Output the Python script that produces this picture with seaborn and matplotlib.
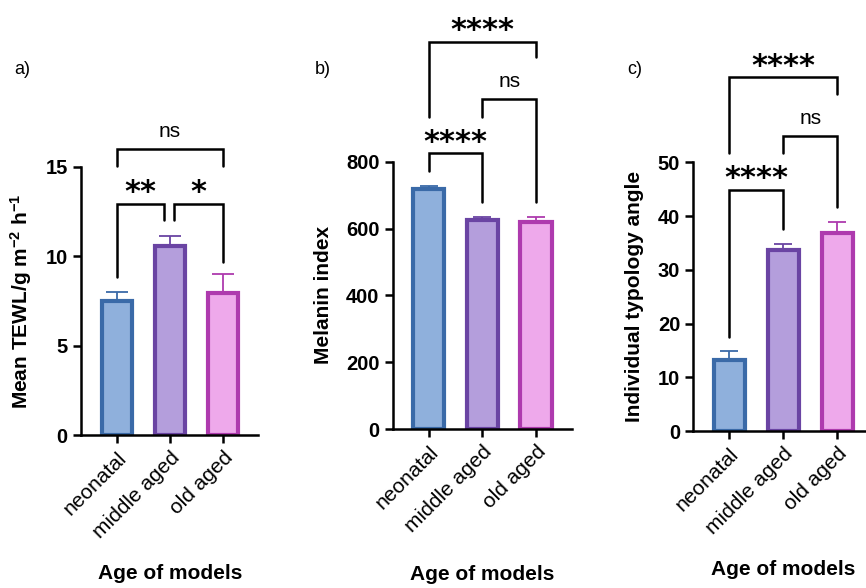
import numpy as np
import seaborn as sns
import matplotlib.pyplot as plt

# data
categories = ['neonatal', 'middle aged', 'old aged']
tewl_mean = [7.5, 10.58, 7.95]
tewl_err = [0.52, 0.57, 1.04]
melanin_mean = [717, 625, 621]
melanin_err = [11, 10, 14]
angle_mean = [13.2, 33.6, 36.9]
angle_err = [1.6, 1.2, 2.05]

fills = ['#8FB0DC', '#B49EDC', '#EEA9EB']
edges = ['#3A6AA8', '#6A44A3', '#AE3AAE']

sns.set_style('ticks')
plt.rcParams['font.family'] = ['Liberation Sans', 'DejaVu Sans']
plt.rcParams['text.color'] = 'black'
plt.rcParams['axes.labelcolor'] = 'black'
plt.rcParams['xtick.color'] = 'black'
plt.rcParams['ytick.color'] = 'black'
plt.rcParams['mathtext.fontset'] = 'custom'
plt.rcParams['mathtext.rm'] = 'Liberation Sans:bold'
plt.rcParams['mathtext.bf'] = 'Liberation Sans:bold'
plt.rcParams['mathtext.default'] = 'bf'

fig = plt.figure(figsize=(8.66, 5.88), dpi=100)

# axes rectangles, figure fractions
rects = [
    [0.0935, 0.2602, 0.2044, 0.4558],
    [0.4535, 0.2704, 0.2067, 0.4546],
    [0.8006, 0.2670, 0.2080, 0.4570],
]
xlims = [(-0.68, 2.66), (-0.673, 2.666), (-0.667, 2.67)]
means = [tewl_mean, melanin_mean, angle_mean]
errs = [tewl_err, melanin_err, angle_err]
ylims = [15, 800, 50]
ysteps = [5, 200, 10]
ylabels = [r'Mean TEWL/g m$^{-2}$ h$^{-1}$', 'Melanin index', 'Individual typology angle']
ylabel_x = [-0.339, -0.389, -0.324]
xlabel_xy = [(0.503, -0.515), (0.499, -0.546), (0.498, -0.517)]
capsizes = [8, 6.5, 6.5]

# brackets: (x_left, x_right, y_bar, left_leg_end, right_leg_end, label)
brackets = [
    [(0, 0.89, 12.93, 8.86, 12.03, '**'),
     (1.08, 2, 12.93, 12.03, 9.7, '*'),
     (0, 2, 15.99, 15.07, 15.07, 'ns')],
    [(0, 1, 825, 773, 680, '****'),
     (1, 2, 987, 935, 680, 'ns'),
     (0, 2, 1159, 935, 1112, '****')],
    [(0, 1, 44.85, 17.4, 37.5, '****'),
     (1, 2, 54.9, 51.7, 41.6, 'ns'),
     (0, 2, 65.8, 51.7, 62.7, '****')],
]

for k in range(3):
    ax = fig.add_axes(rects[k])
    sns.barplot(x=categories, y=means[k], hue=categories, palette=fills,
                saturation=1, width=0.58, linewidth=3, legend=False, ax=ax)
    for patch, ec in zip(ax.patches, edges):
        patch.set_edgecolor(ec)
    for i in range(3):
        ax.errorbar(i, means[k][i], yerr=[[0], [errs[k][i]]], fmt='none',
                    ecolor=edges[i], elinewidth=1.3, capsize=capsizes[k],
                    capthick=1.3, zorder=1)

    ax.set_xlim(*xlims[k])
    ax.set_ylim(0, ylims[k])
    ax.set_yticks(np.arange(0, ylims[k] + 1, ysteps[k]))
    sns.despine(ax=ax)
    for sp in ['left', 'bottom']:
        ax.spines[sp].set_linewidth(1.8)
        ax.spines[sp].set_color('black')
    ax.tick_params(axis='both', length=6, width=1.8, color='black')
    ax.tick_params(axis='y', labelsize=14.5)
    for lab in ax.get_yticklabels():
        lab.set_fontweight('bold')
    ax.set_xticks(range(3))
    ax.set_xticklabels(categories, rotation=45, ha='right',
                       rotation_mode='anchor', fontsize=15)
    ax.set_ylabel(ylabels[k], fontsize=15, fontweight='bold')
    ax.yaxis.set_label_coords(ylabel_x[k], 0.5)
    ax.yaxis.label.set_va('center')
    ax.set_xlabel('Age of models', fontsize=15, fontweight='bold')
    ax.xaxis.set_label_coords(*xlabel_xy[k])
    ax.xaxis.label.set_va('center')

    for (x0, x1, yb, yl, yr, lab) in brackets[k]:
        ax.plot([x0, x0, x1, x1], [yl, yb, yb, yr], color='black', lw=1.8,
                clip_on=False, solid_joinstyle='miter')
        if lab == 'ns':
            ax.annotate(lab, ((x0 + x1) / 2, yb), xytext=(0, 6),
                        textcoords='offset points', ha='center', va='bottom',
                        fontsize=15, annotation_clip=False)
        else:
            ax.annotate(lab, ((x0 + x1) / 2, yb), xytext=(0, 2),
                        textcoords='offset points', ha='center', va='baseline',
                        fontsize=22, fontweight='bold', family='DejaVu Sans',
                        annotation_clip=False)

fig.text(22 / 866, 1 - 69 / 588, 'a)', fontsize=13, ha='center', va='center')
fig.text(323 / 866, 1 - 69 / 588, 'b)', fontsize=13, ha='center', va='center')
fig.text(635 / 866, 1 - 70 / 588, 'c)', fontsize=13, ha='center', va='center')

fig.savefig('out.png', dpi=100)
